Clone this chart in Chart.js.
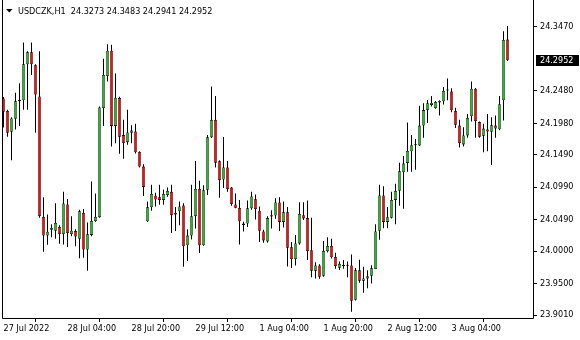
<!DOCTYPE html>
<html>
<head>
<meta charset="utf-8">
<script src="https://cdn.jsdelivr.net/npm/chart.js@4.4.1/dist/chart.umd.min.js"></script>
<style>
html, body { margin: 0; padding: 0; background: #fff; }
</style>
</head>
<body>
<canvas id="usdczk" width="580" height="340"></canvas>
<script>
// USDCZK H1 - CANDLES

const symbol = "USDCZK,H1";

const opens = [
    24.2363, 24.2168, 24.1846, 24.2047, 24.2318, 24.2333, 24.2890, 24.3076, 24.2875, 24.2393,
    24.0531, 24.0240, 24.0330, 24.0315, 24.0375, 24.0265, 24.0722, 24.0265, 24.0310, 24.0190,
    24.0591, 24.0024, 24.0250, 24.0466, 24.0526, 24.2213, 24.2710, 24.3101, 24.1937, 24.2368,
    24.1796, 24.1686, 24.1831, 24.1851, 24.1535, 24.1309, 24.0461, 24.0677, 24.0857, 24.0832,
    24.0792, 24.0867, 24.0918, 24.0591, 24.0616, 24.0707, 24.0089, 24.0240, 24.0541, 24.0963,
    24.0089, 24.0948, 24.1761, 24.2032, 24.1389, 24.1108, 24.1294, 24.0983, 24.0722, 24.0667,
    24.0426, 24.0426, 24.0662, 24.0802, 24.0626, 24.0305, 24.0150, 24.0536, 24.0551, 24.0752,
    24.0451, 24.0601, 24.0059, 23.9878, 24.0119, 24.0556, 24.0511, 24.0014, 23.9698, 23.9778,
    23.9617, 23.9999, 24.0079, 23.9909, 23.9743, 23.9778, 23.9773, 23.9778, 23.9246, 23.9703,
    23.9542, 23.9577, 23.9617, 23.9723, 24.0315, 24.0862, 24.0451, 24.0516, 24.0792, 24.0933,
    24.1219, 24.1364, 24.1545, 24.1640, 24.1635, 24.1942, 24.2183, 24.2263, 24.2213, 24.2298,
    24.2318, 24.2484, 24.2469, 24.2168, 24.1942, 24.1651, 24.1791, 24.2087, 24.2514, 24.1997,
    24.1786, 24.1881, 24.1846, 24.1942, 24.1886, 24.2333, 24.3273
];

const highs = [
    24.2383, 24.2188, 24.2072, 24.2449, 24.2599, 24.3227, 24.3091, 24.3227, 24.2890, 24.3091,
    24.0832, 24.0566, 24.0416, 24.0742, 24.0401, 24.0918, 24.0807, 24.0541, 24.0340, 24.0642,
    24.0652, 24.0441, 24.1078, 24.0893, 24.2238, 24.2976, 24.3202, 24.3192, 24.2750, 24.2388,
    24.2032, 24.2188, 24.1947, 24.1972, 24.1545, 24.1344, 24.0767, 24.1028, 24.0903, 24.1028,
    24.0953, 24.0983, 24.1028, 24.0682, 24.0767, 24.0742, 24.0340, 24.1028, 24.1395, 24.1088,
    24.1018, 24.1796, 24.2549, 24.2399, 24.1405, 24.1766, 24.1395, 24.0993, 24.0893, 24.0792,
    24.0456, 24.0782, 24.0918, 24.0877, 24.0692, 24.0330, 24.0541, 24.0631, 24.0817, 24.0832,
    24.0767, 24.0682, 24.0140, 24.0250, 24.0757, 24.0757, 24.0782, 24.0516, 23.9828, 23.9798,
    24.0155, 24.0215, 24.0190, 23.9974, 23.9838, 23.9863, 23.9838, 23.9949, 23.9738, 23.9868,
    23.9758, 23.9703, 23.9783, 24.0416, 24.1028, 24.1003, 24.0682, 24.0918, 24.1043, 24.1369,
    24.1470, 24.1992, 24.1796, 24.1736, 24.2248, 24.2288, 24.2338, 24.2399, 24.2323, 24.2333,
    24.2539, 24.2670, 24.2519, 24.2218, 24.2032, 24.1917, 24.2122, 24.2624, 24.2524, 24.2007,
    24.1972, 24.2122, 24.2072, 24.2097, 24.2399, 24.3403, 24.3483
];

const lows = [
    24.1912, 24.1771, 24.1405, 24.1881, 24.1937, 24.2188, 24.2188, 24.2725, 24.1831, 24.0516,
    23.9989, 24.0099, 24.0215, 24.0190, 24.0114, 24.0104, 24.0064, 24.0230, 24.0074, 23.9889,
    23.9899, 23.9698, 24.0230, 24.0456, 24.0516, 24.1937, 24.2624, 24.1620, 24.1671, 24.1505,
    24.1430, 24.1646, 24.1671, 24.1510, 24.1294, 24.0852, 24.0451, 24.0626, 24.0692, 24.0717,
    24.0717, 24.0842, 24.0280, 24.0310, 24.0401, 23.9758, 23.9848, 24.0180, 24.0350, 23.9969,
    24.0084, 24.0867, 24.1751, 24.1294, 24.0827, 24.0978, 24.0918, 24.0702, 24.0662, 24.0104,
    24.0305, 24.0375, 24.0642, 24.0491, 24.0140, 24.0129, 24.0129, 24.0350, 24.0501, 24.0310,
    24.0365, 23.9763, 23.9738, 23.9778, 24.0099, 24.0481, 23.9863, 23.9597, 23.9577, 23.9572,
    23.9602, 23.9979, 23.9884, 23.9728, 23.9708, 23.9728, 23.9597, 23.9060, 23.9236, 23.9512,
    23.9356, 23.9427, 23.9497, 23.9723, 24.0175, 24.0355, 24.0355, 24.0506, 24.0416, 24.0702,
    24.0657, 24.1229, 24.1229, 24.1259, 24.1625, 24.1756, 24.1982, 24.2238, 24.2203, 24.2097,
    24.2268, 24.2333, 24.2148, 24.1907, 24.1605, 24.1620, 24.1756, 24.2007, 24.1756, 24.1756,
    24.1530, 24.1545, 24.1334, 24.1756, 24.1871, 24.2022, 24.2941
];

const closes = [
    24.2158, 24.1831, 24.2052, 24.2318, 24.2338, 24.2890, 24.3076, 24.2890, 24.2424, 24.0541,
    24.0240, 24.0300, 24.0360, 24.0436, 24.0265, 24.0737, 24.0280, 24.0315, 24.0225, 24.0616,
    24.0024, 24.0260, 24.0466, 24.0531, 24.2223, 24.2725, 24.3101, 24.1937, 24.2373, 24.1771,
    24.1671, 24.1836, 24.1866, 24.1530, 24.1309, 24.0993, 24.0677, 24.0887, 24.0797, 24.0792,
    24.0887, 24.0933, 24.0556, 24.0566, 24.0692, 24.0074, 24.0240, 24.0541, 24.0963, 24.0089,
    24.0943, 24.1761, 24.2032, 24.1369, 24.1098, 24.1294, 24.0958, 24.0727, 24.0672, 24.0461,
    24.0406, 24.0662, 24.0847, 24.0652, 24.0315, 24.0165, 24.0511, 24.0556, 24.0752, 24.0451,
    24.0601, 24.0054, 23.9878, 24.0119, 24.0576, 24.0506, 23.9999, 23.9698, 23.9778, 23.9602,
    24.0004, 24.0079, 23.9904, 23.9768, 23.9803, 23.9768, 23.9778, 23.9231, 23.9703, 23.9542,
    23.9577, 23.9612, 23.9733, 24.0305, 24.0862, 24.0451, 24.0526, 24.0792, 24.0933, 24.1234,
    24.1354, 24.1550, 24.1640, 24.1640, 24.1942, 24.2183, 24.2288, 24.2293, 24.2308, 24.2323,
    24.2479, 24.2489, 24.2178, 24.1957, 24.1671, 24.1791, 24.2062, 24.2514, 24.2012, 24.1771,
    24.1897, 24.1851, 24.1947, 24.1897, 24.2273, 24.3267, 24.2952
];

// time axis labels, one every 16 bars
const timeTickBars = [0, 16, 32, 48, 64, 80, 96, 112];
const timeTickLabels = ["27 Jul 2022", "28 Jul 04:00", "28 Jul 20:00", "29 Jul 12:00",
    "1 Aug 04:00", "1 Aug 20:00", "2 Aug 12:00", "3 Aug 04:00"];

// price axis labels (24.2980 sits under the bid box)
const priceTicks = [23.9010, 23.9500, 24.0000, 24.0490, 24.0990, 24.1490, 24.1980, 24.2480, 24.3470];

const FONT = "'DejaVu Sans Condensed', 'Liberation Sans', sans-serif";
const UP = "#2fb52f";
const DOWN = "#f01010";

const bodyData = opens.map((o, i) => ({ x: i, y: [o, closes[i]] }));
const wickData = lows.map((l, i) => ({ x: i, y: [l, highs[i]] }));

const last = opens.length - 1;

const mt4Frame = {
    id: "mt4Frame",
    afterDraw(chart) {
        const ctx = chart.ctx;
        const a = chart.chartArea;
        const y = chart.scales.y;
        ctx.save();
        // frame
        ctx.strokeStyle = "#000";
        ctx.lineWidth = 1;
        ctx.beginPath();
        ctx.moveTo(a.left - 0.5, 0);
        ctx.lineTo(a.left - 0.5, a.bottom + 0.5);
        ctx.lineTo(a.right + 0.5, a.bottom + 0.5);
        ctx.lineTo(a.right + 0.5, 0);
        ctx.stroke();

        // header
        ctx.fillStyle = "#000";
        ctx.beginPath();
        ctx.moveTo(6, 9);
        ctx.lineTo(12.5, 9);
        ctx.lineTo(9.25, 12.5);
        ctx.closePath();
        ctx.fill();
        ctx.font = "9px " + FONT;
        ctx.textBaseline = "alphabetic";
        ctx.textAlign = "left";
        const txt = symbol + "  " + [opens[last], highs[last], lows[last], closes[last]]
            .map(v => v.toFixed(4)).join(" ");
        ctx.fillText(txt, 18, 14);

        // bid box
        const py = Math.round(y.getPixelForValue(closes[last]));
        ctx.fillStyle = "#000";
        ctx.fillRect(a.right + 3, py - 5, 43, 11);
        ctx.fillStyle = "#fff";
        ctx.textBaseline = "middle";
        ctx.fillText(closes[last].toFixed(4), a.right + 7, py + 0.5);
        ctx.restore();
    }
};

new Chart(document.getElementById("usdczk"), {
    type: "bar",
    data: {
        datasets: [
            {
                label: "body",
                data: bodyData,
                grouped: false,
                order: 1,
                barThickness: 3,
                minBarLength: 1,
                borderWidth: 0.6,
                borderColor: "#000",
                borderSkipped: false,
                inflateAmount: 0,
                backgroundColor: (c) => {
                    const i = c.dataIndex;
                    if (closes[i] > opens[i]) return UP;
                    if (closes[i] < opens[i]) return DOWN;
                    return "#000";
                }
            },
            {
                label: "wick",
                data: wickData,
                grouped: false,
                order: 2,
                barThickness: 1,
                borderWidth: 0,
                inflateAmount: 0,
                backgroundColor: "#000"
            }
        ]
    },
    options: {
        responsive: false,
        animation: false,
        devicePixelRatio: 1,
        layout: { padding: { left: 3, top: 0, right: 0, bottom: 0 } },
        plugins: { legend: { display: false }, tooltip: { enabled: false } },
        scales: {
            x: {
                type: "linear",
                min: -0.125,
                max: 132.375,
                offset: false,
                afterFit: (s) => { s.height = 22; },
                afterBuildTicks: (s) => { s.ticks = timeTickBars.map(v => ({ value: v })); },
                grid: { drawOnChartArea: false, drawTicks: true, tickLength: 4, color: "#000" },
                border: { display: false },
                ticks: {
                    autoSkip: false,
                    maxRotation: 0,
                    align: "start",
                    padding: 1,
                    color: "#000",
                    font: { family: FONT, size: 9 },
                    callback: (v) => timeTickLabels[timeTickBars.indexOf(v)]
                }
            },
            y: {
                position: "right",
                min: 23.8965,
                max: 24.3756,
                afterFit: (s) => { s.width = 47; },
                afterBuildTicks: (s) => { s.ticks = priceTicks.map(v => ({ value: v })); },
                grid: { drawOnChartArea: false, drawTicks: true, tickLength: 4, color: "#000" },
                border: { display: false },
                ticks: {
                    padding: 3,
                    color: "#000",
                    font: { family: FONT, size: 9 },
                    callback: (v) => Number(v).toFixed(4)
                }
            }
        }
    },
    plugins: [mt4Frame]
});
</script>
</body>
</html>
